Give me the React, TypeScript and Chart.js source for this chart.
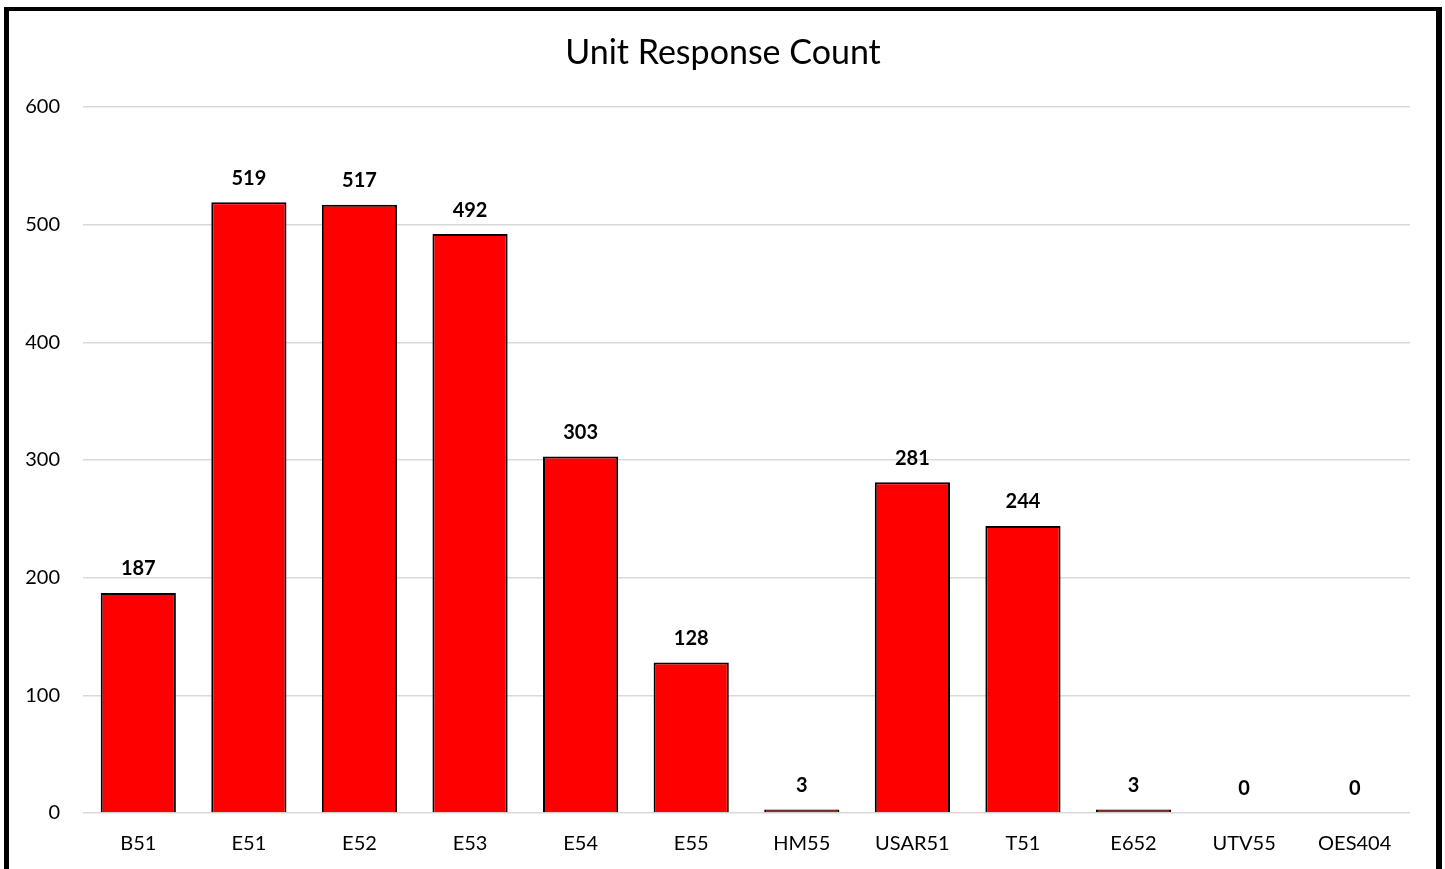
import React, { useEffect, useRef } from "react";
import { Chart, registerables } from "chart.js";

Chart.register(...registerables);

const categories = ["B51", "E51", "E52", "E53", "E54", "E55", "HM55", "USAR51", "T51", "E652", "UTV55", "OES404"];
const responseCounts = [187, 519, 517, 492, 303, 128, 3, 281, 244, 3, 0, 0];
const yTicks = [0, 100, 200, 300, 400, 500, 600];
const chartTitle = "Unit Response Count";

const FONT = "Lato, 'Open Sans', sans-serif";

const labelPlugin = {
  id: "valueLabels",
  afterDatasetsDraw(chart: any) {
    const ctx = chart.ctx;
    const meta = chart.getDatasetMeta(0);
    ctx.save();
    ctx.font = `bold 20px ${FONT}`;
    ctx.fillStyle = "#000";
    ctx.textAlign = "center";
    ctx.textBaseline = "bottom";
    meta.data.forEach((bar: any, i: number) => {
      ctx.fillText(String(responseCounts[i]), bar.x, bar.y - 14);
    });
    ctx.restore();
  },
};

const titlePlugin = {
  id: "customTitle",
  afterDraw(chart: any) {
    const ctx = chart.ctx;
    ctx.save();
    ctx.font = `34px ${FONT}`;
    ctx.fillStyle = "#000";
    ctx.textAlign = "center";
    ctx.textBaseline = "middle";
    ctx.fillText(chartTitle, 723, 53);
    ctx.restore();
  },
};

export default function App() {
  const ref = useRef<HTMLCanvasElement>(null);
  useEffect(() => {
    if (!ref.current) return;
    const chart = new Chart(ref.current, {
      type: "bar",
      data: {
        labels: categories,
        datasets: [
          {
            data: responseCounts,
            backgroundColor: "#FF0000",
            borderColor: "#000000",
            borderWidth: 2,
            barPercentage: 0.68,
            categoryPercentage: 1,
          },
        ],
      },
      options: {
        animation: false,
        responsive: false,
        maintainAspectRatio: false,
        layout: { padding: { top: 107, right: 35, left: 0, bottom: 0 } },
        plugins: {
          legend: { display: false },
          title: { display: false },
          tooltip: { enabled: false },
        },
        scales: {
          x: {
            grid: { display: false, drawTicks: false },
            border: { display: false },
            ticks: { color: "#000", font: { family: FONT, size: 20 }, padding: 19 },
            afterFit(scale: any) {
              scale.height = 56;
            },
          },
          y: {
            min: 0,
            max: 600,
            afterBuildTicks(scale: any) {
              scale.ticks = yTicks.map((v) => ({ value: v }));
            },
            grid: { color: "#d9d9d9", lineWidth: 1.5, drawTicks: false },
            border: { display: false },
            ticks: { color: "#000", font: { family: FONT, size: 20 }, padding: 23 },
            afterFit(scale: any) {
              scale.width = 83;
            },
          },
        },
      },
      plugins: [labelPlugin, titlePlugin],
    });
    return () => chart.destroy();
  }, []);

  return (
    <div style={{ position: "fixed", left: 0, top: 0, width: 1445, height: 869, background: "#fff", overflow: "hidden" }}>
      <canvas ref={ref} width={1445} height={869} style={{ position: "absolute", left: 0, top: 0 }} />
      <div
        style={{
          position: "absolute",
          left: 4,
          top: 7,
          width: 1438,
          height: 900,
          boxSizing: "border-box",
          borderTop: "4px solid #000",
          borderLeft: "5px solid #000",
          borderRight: "6px solid #000",
          pointerEvents: "none",
        }}
      />
    </div>
  );
}
